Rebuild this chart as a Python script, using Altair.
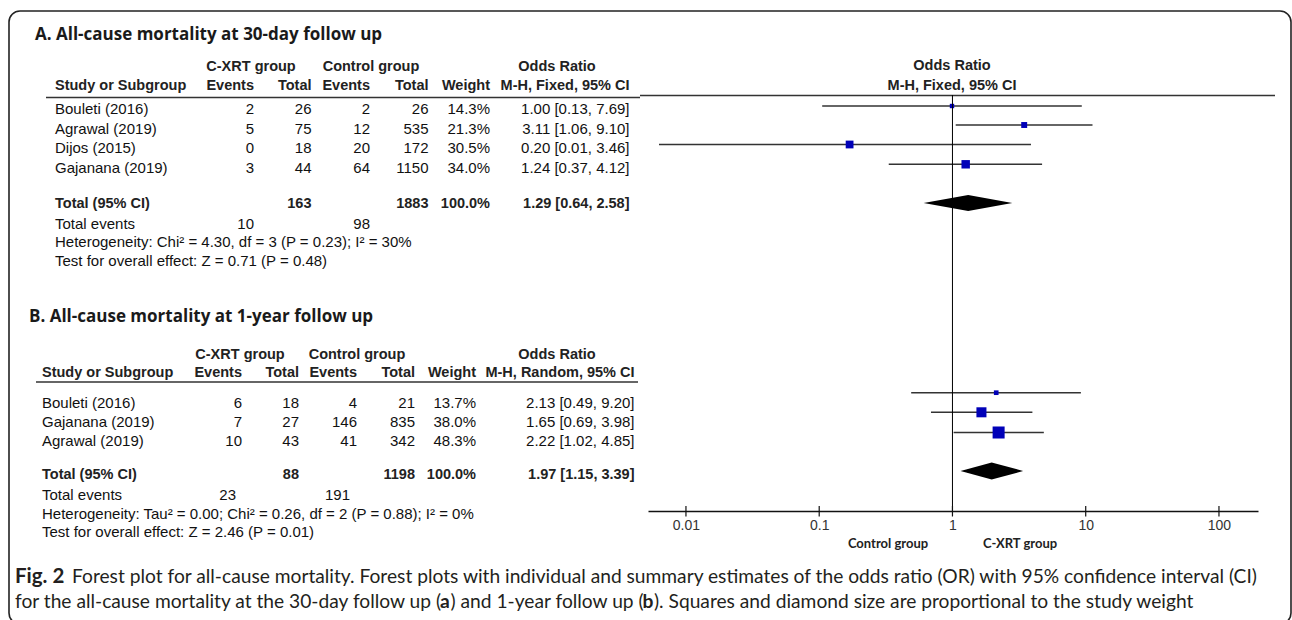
import altair as alt
import pandas as pd

# ---------------- A. All-cause mortality at 30-day follow up (M-H, fixed) ----------------
studies_a = ["Bouleti (2016)", "Agrawal (2019)", "Dijos (2015)", "Gajanana (2019)"]
xrt_events_a = [2, 5, 0, 3]
xrt_total_a = [26, 75, 18, 44]
ctl_events_a = [2, 12, 20, 64]
ctl_total_a = [26, 535, 172, 1150]
weight_a = [14.3, 21.3, 30.5, 34.0]
or_a = [1.00, 3.11, 0.20, 1.24]
or_lo_a = [0.13, 1.06, 0.01, 0.37]
or_hi_a = [7.69, 9.10, 3.46, 4.12]
pooled_a = [1.29, 0.64, 2.58]          # estimate, lower, upper
totals_a = [163, 1883]                 # participants: C-XRT, control
total_events_a = [10, 98]
total_weight_a = 100.0
het_a = "Heterogeneity: Chi\u00b2 = 4.30, df = 3 (P = 0.23); I\u00b2 = 30%"
test_a = "Test for overall effect: Z = 0.71 (P = 0.48)"

# ---------------- B. All-cause mortality at 1-year follow up (M-H, random) ----------------
studies_b = ["Bouleti (2016)", "Gajanana (2019)", "Agrawal (2019)"]
xrt_events_b = [6, 7, 10]
xrt_total_b = [18, 27, 43]
ctl_events_b = [4, 146, 41]
ctl_total_b = [21, 835, 342]
weight_b = [13.7, 38.0, 48.3]
or_b = [2.13, 1.65, 2.22]
or_lo_b = [0.49, 0.69, 1.02]
or_hi_b = [9.20, 3.98, 4.85]
pooled_b = [1.97, 1.15, 3.39]
totals_b = [88, 1198]
total_events_b = [23, 191]
total_weight_b = 100.0
het_b = "Heterogeneity: Tau\u00b2 = 0.00; Chi\u00b2 = 0.26, df = 2 (P = 0.88); I\u00b2 = 0%"
test_b = "Test for overall effect: Z = 2.46 (P = 0.01)"

axis_ticks = [0.01, 0.1, 1, 10, 100]
favours = ["Control group", "C-XRT group"]

caption_1 = ("Forest plot for all-cause mortality. Forest plots with individual and summary "
             "estimates of the odds ratio (OR) with 95% confidence interval (CI)")
caption_2 = ["for the all-cause mortality at the 30-day follow up (", "a",
             ") and 1-year follow up (", "b",
             "). Squares and diamond size are proportional to the study weight"]

# ---------------- styling / layout ----------------
W, H = 1292, 620
TABLE_FONT = "Liberation Sans"
TITLE_FONT = "Open Sans"
CAPTION_FONT = "Lato"
INK = "#111111"
HEAD = "#222222"
BLUE = "#0000b8"
AXIS_Y = 511
HEAD_SIZE = 14.5
CAP_SIZE = 19.2


def fmt_or(o, lo, hi):
    return f"{o:.2f} [{lo:.2f}, {hi:.2f}]"


def text_layer(items, align="left", weight="normal", size=15, font=TABLE_FONT, color=INK):
    df = pd.DataFrame(items, columns=["px", "py", "label"])
    return alt.Chart(df).mark_text(
        align=align, baseline="middle", font=font, fontSize=size,
        fontWeight=weight, color=color,
    ).encode(
        x=alt.X("px:Q", scale=None, axis=None),
        y=alt.Y("py:Q", scale=None, axis=None),
        text=alt.Text("label:N"),
    )


def hline(x1, x2, y, width=1.6, color="#333333"):
    return alt.Chart(pd.DataFrame({"k": [0]})).mark_rule(
        color=color, strokeWidth=width
    ).encode(x=alt.value(x1), x2=alt.value(x2), y=alt.value(y))


def table(studies, xe, xt, ce, ct, wt, o, lo, hi, pooled, totals, tot_events, tot_w,
          het, test, left, cols, group_centers, method, title, title_x, ys):
    """Left-hand RevMan style table for one comparison."""
    ev1, tot1, ev2, tot2, wcol, orcol = cols
    y_title, y_h1, y_h2, rows, y_total, y_events, y_het, y_test, ev_cols = ys
    layers = []
    layers.append(text_layer([(title_x, y_title, title)], weight="bold",
                             size=17, font=TITLE_FONT, color="#1a1a1a"))
    # header
    layers.append(text_layer([(group_centers[0], y_h1, "C-XRT group"),
                              (group_centers[1], y_h1, "Control group"),
                              (group_centers[2], y_h1, "Odds Ratio")],
                             align="center", weight="bold", size=HEAD_SIZE, color=HEAD))
    layers.append(text_layer([(left, y_h2, "Study or Subgroup")],
                             weight="bold", size=HEAD_SIZE, color=HEAD))
    layers.append(text_layer([(ev1, y_h2, "Events"), (tot1, y_h2, "Total"),
                              (ev2, y_h2, "Events"), (tot2, y_h2, "Total"),
                              (wcol, y_h2, "Weight"), (orcol, y_h2, method)],
                             align="right", weight="bold", size=HEAD_SIZE, color=HEAD))
    # study rows
    layers.append(text_layer([(left, y, s) for s, y in zip(studies, rows)]))
    nums = []
    for i, y in enumerate(rows):
        nums += [(ev1, y, str(xe[i])), (tot1, y, str(xt[i])),
                 (ev2, y, str(ce[i])), (tot2, y, str(ct[i])),
                 (wcol, y, f"{wt[i]:.1f}%"), (orcol, y, fmt_or(o[i], lo[i], hi[i]))]
    layers.append(text_layer(nums, align="right"))
    # pooled row
    layers.append(text_layer([(left, y_total, "Total (95% CI)")], weight="bold",
                             size=HEAD_SIZE, color=HEAD))
    layers.append(text_layer([(tot1, y_total, str(totals[0])), (tot2, y_total, str(totals[1])),
                              (wcol, y_total, f"{tot_w:.1f}%"),
                              (orcol, y_total, fmt_or(*pooled))],
                             align="right", weight="bold", size=HEAD_SIZE, color=HEAD))
    layers.append(text_layer([(left, y_events, "Total events"),
                              (left, y_het, het), (left, y_test, test)]))
    layers.append(text_layer([(ev_cols[0], y_events, str(tot_events[0])),
                              (ev_cols[1], y_events, str(tot_events[1]))], align="right"))
    return layers


def forest(o, lo, hi, wt, pooled, rows, y_pooled, xscale, size_max, half_h):
    df = pd.DataFrame({"or": o, "lo": lo, "hi": hi, "weight": wt, "y": rows})
    ci = alt.Chart(df).mark_rule(color="#333333", strokeWidth=1.4).encode(
        x=alt.X("lo:Q", scale=xscale, axis=None),
        x2="hi:Q",
        y=alt.Y("y:Q", scale=None, axis=None),
    )
    sq = alt.Chart(df).mark_square(color=BLUE, opacity=1).encode(
        x=alt.X("or:Q", scale=xscale, axis=None),
        y=alt.Y("y:Q", scale=None, axis=None),
        size=alt.Size("weight:Q", legend=None,
                      scale=alt.Scale(type="pow", exponent=1.5, domain=[0, 50],
                                      range=[0, size_max])),
    )
    est, plo, phi = pooled
    dia = pd.DataFrame({"x": [plo, est, phi],
                        "top": [y_pooled, y_pooled - half_h, y_pooled],
                        "bot": [y_pooled, y_pooled + half_h, y_pooled]})
    diamond = alt.Chart(dia).mark_area(color="black", orient="vertical",
                                       opacity=1).encode(
        x=alt.X("x:Q", scale=xscale, axis=None),
        y=alt.Y("top:Q", scale=None, axis=None),
        y2="bot:Q",
    )
    return [ci, sq, diamond]


# log scales of the two forest panels (1 sits on the same vertical line)
scale_a = alt.Scale(type="log", domain=[0.01, 100], range=[659, 1245], nice=False)
scale_b = alt.Scale(type="log", domain=[0.00519, 196.3], range=[648, 1258], nice=False)

layers = []

# frame
layers.append(alt.Chart(pd.DataFrame({"k": [0]})).mark_rect(
    fillOpacity=0, stroke="#222222", strokeWidth=1.6, cornerRadius=11
).encode(x=alt.value(9), x2=alt.value(1291), y=alt.value(11), y2=alt.value(624)))

# ---- panel A ----
layers += table(studies_a, xrt_events_a, xrt_total_a, ctl_events_a, ctl_total_a,
                weight_a, or_a, or_lo_a, or_hi_a, pooled_a, totals_a, total_events_a,
                total_weight_a, het_a, test_a,
                left=55, cols=(254, 311.5, 370, 428.5, 490, 629.5),
                group_centers=(251, 371, 557), method="M-H, Fixed, 95% CI",
                title="A. All-cause mortality at 30-day follow up", title_x=35,
                ys=(35, 66.5, 86, [108.5, 128.5, 148, 167.5], 203.5, 223.5, 242, 261,
                    (254, 370)))
layers.append(hline(46, 640, 97.5))
layers.append(hline(640, 1275, 95.5))
layers.append(text_layer([(952, 66, "Odds Ratio"), (952, 86, "M-H, Fixed, 95% CI")],
                         align="center", weight="bold", size=HEAD_SIZE, color=HEAD))
layers += forest(or_a, or_lo_a, or_hi_a, weight_a, pooled_a,
                 [106, 125, 144.5, 164.3], 203, scale_a, 127, 8)

# ---- panel B ----
layers += table(studies_b, xrt_events_b, xrt_total_b, ctl_events_b, ctl_total_b,
                weight_b, or_b, or_lo_b, or_hi_b, pooled_b, totals_b, total_events_b,
                total_weight_b, het_b, test_b,
                left=42, cols=(242, 299, 357, 415, 476, 634.5),
                group_centers=(240, 357, 557), method="M-H, Random, 95% CI",
                title="B. All-cause mortality at 1-year follow up", title_x=29,
                ys=(317, 355, 373.3, [402.5, 421.5, 440.5], 475, 494.5, 513.5, 532,
                    (236, 350)))
layers.append(hline(36, 638, 382))
layers += forest(or_b, or_lo_b, or_hi_b, weight_b, pooled_b,
                 [392.7, 412.3, 432.5], 471, scale_b, 152, 8.5)

# line of no effect, carrying the shared log axis
layers.append(alt.Chart(pd.DataFrame({"v": [1.0]})).mark_rule(
    color="black", strokeWidth=1
).encode(
    x=alt.X("v:Q", scale=scale_b,
            axis=alt.Axis(orient="bottom", offset=-(H - AXIS_Y), values=axis_ticks,
                          format="~g", ticks=False, grid=False, domain=True,
                          domainColor="#111111", domainWidth=1.3,
                          labelFont=TABLE_FONT, labelFontSize=14, labelColor="#333333",
                          labelPadding=7, labelOverlap=False, labelFlush=False,
                          title=None)),
    y=alt.value(95), y2=alt.value(AXIS_Y),
))
layers.append(alt.Chart(pd.DataFrame({"t": axis_ticks})).mark_rule(
    color="#111111", strokeWidth=1.2
).encode(x=alt.X("t:Q", scale=scale_b, axis=None),
         y=alt.value(AXIS_Y - 5), y2=alt.value(AXIS_Y + 5.5)))
layers.append(text_layer([(888, 543.5, favours[0]), (1020, 543.5, favours[1])],
                         align="center", weight="bold", size=13, font=CAPTION_FONT,
                         color="#222222"))

# ---- figure caption ----
layers.append(text_layer([(15, 577, "Fig. 2")], weight="bold", size=20.5,
                         font=CAPTION_FONT, color="#231f20"))
layers.append(text_layer([(72, 577, caption_1)], size=CAP_SIZE, font=CAPTION_FONT,
                         color="#231f20"))
# second line: plain text with the panel letters set in bold
cap2_x = [15, 440, 450.5, 642.5, 654]
cap2_w = ["normal", "bold", "normal", "bold", "normal"]
for seg, x, w in zip(caption_2, cap2_x, cap2_w):
    layers.append(text_layer([(x, 602, seg)], weight=w, size=CAP_SIZE,
                             font=CAPTION_FONT, color="#231f20"))

chart = alt.layer(*layers).resolve_scale(
    x="independent", y="independent", size="independent"
).properties(
    width=W, height=H, autosize="none", padding=0, background="white"
).configure_view(stroke=None)

chart.save("out.html", embed_options={"renderer": "svg", "actions": False})
